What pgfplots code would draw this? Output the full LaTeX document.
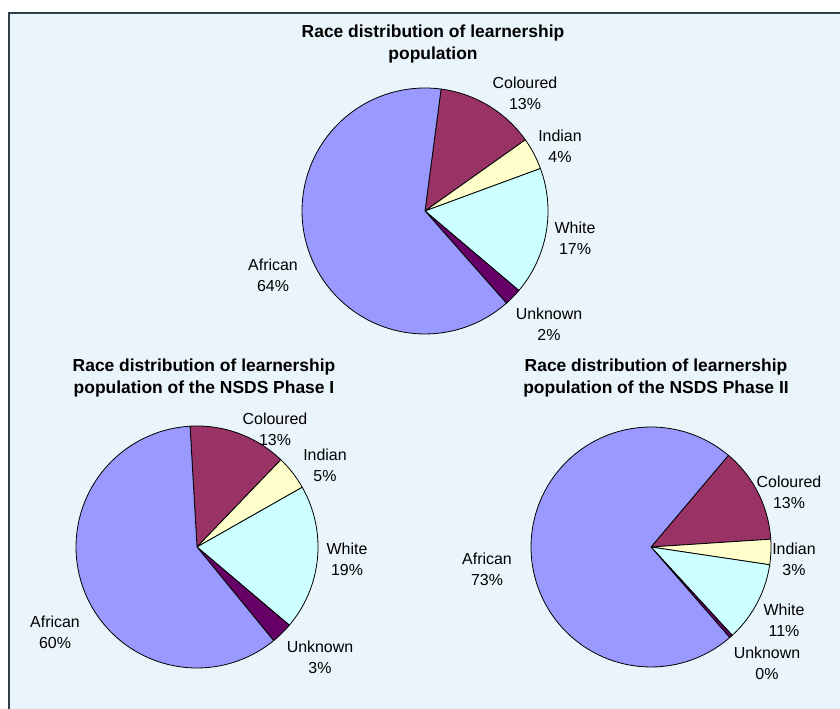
\documentclass[border=0pt]{standalone}
\usepackage{pgfplots}
\pgfplotsset{compat=1.18}
\usepackage{fontspec}
\setmainfont{Liberation Sans}
\definecolor{african}{HTML}{9999FF}
\definecolor{coloured}{HTML}{993366}
\definecolor{indian}{HTML}{FFFFCC}
\definecolor{cwhite}{HTML}{CCFFFF}
\definecolor{unknown}{HTML}{660066}
\definecolor{bgc}{HTML}{EAF4FB}
\definecolor{framec}{HTML}{2E3E4A}

% one pie slice, angles in degrees (math convention)
\newcommand\wedgeplot[6]{%
  \pgfmathsetmacro\wa{#4}\pgfmathsetmacro\wb{#5}%
  \edef\tmp{\noexpand\addplot[fill=#6, draw=black, line width=0.8pt, line join=round,
    domain=\wa:\wb, samples=90, variable=\noexpand\t]
    ({#1+#3*cos(\noexpand\t)},{#2+#3*sin(\noexpand\t)}) -- (axis cs:#1,#2) -- cycle;}%
  \tmp}
% cx cy r offset(clockwise from 12 o'clock) coloured indian white unknown african (percent)
\newcommand\drawpie[9]{%
  \pgfmathsetmacro\pA{90-#4}%
  \pgfmathsetmacro\pB{\pA-3.6*#5}%
  \pgfmathsetmacro\pC{\pB-3.6*#6}%
  \pgfmathsetmacro\pD{\pC-3.6*#7}%
  \pgfmathsetmacro\pE{\pD-3.6*#8}%
  \pgfmathsetmacro\pF{\pE-3.6*#9}%
  \wedgeplot{#1}{#2}{#3}{\pB}{\pA}{coloured}%
  \wedgeplot{#1}{#2}{#3}{\pC}{\pB}{indian}%
  \wedgeplot{#1}{#2}{#3}{\pD}{\pC}{cwhite}%
  \wedgeplot{#1}{#2}{#3}{\pE}{\pD}{unknown}%
  \wedgeplot{#1}{#2}{#3}{\pF}{\pE}{african}%
}

\begin{document}
\begin{tikzpicture}[x=1bp,y=1bp,
  lbl/.style={align=center, text=black, font=\fontsize{16}{21}\selectfont},
  ttl/.style={align=center, text=black, font=\fontsize{17.5}{22}\selectfont\bfseries}]
\fill[bgc] (9,0) rectangle (840,696);
\draw[framec, line width=1.6pt] (9,0) -- (9,696) -- (840,696);
\begin{axis}[width=840bp, height=709bp, scale only axis, hide axis,
  xmin=0, xmax=840, ymin=0, ymax=709, clip=false]

% Pie 1: overall learnership population
\drawpie{425}{498}{123}{7.5}{13.1}{4.2}{16.8}{2.3}{63.6}
% Pie 2: NSDS Phase I
\drawpie{197}{162}{121}{-3.3}{13.1}{4.6}{19.4}{2.9}{60.0}
% Pie 3: NSDS Phase II
\drawpie{651}{162}{120}{40.2}{12.8}{3.4}{10.8}{0.45}{72.55}

% titles
\node[ttl] at (axis cs:433,665) {Race distribution of learnership\\population};
\node[ttl] at (axis cs:204,331) {Race distribution of learnership\\population of the NSDS Phase I};
\node[ttl] at (axis cs:656,331) {Race distribution of learnership\\population of the NSDS Phase II};

% labels pie 1
\node[lbl] at (axis cs:525,616) {Coloured\\13\%};
\node[lbl] at (axis cs:560,563) {Indian\\4\%};
\node[lbl] at (axis cs:575,471) {White\\17\%};
\node[lbl] at (axis cs:549,385) {Unknown\\2\%};
\node[lbl] at (axis cs:273,434) {African\\64\%};

% labels pie 2
\node[lbl] at (axis cs:275,280) {Coloured\\13\%};
\node[lbl] at (axis cs:325,244) {Indian\\5\%};
\node[lbl] at (axis cs:347,150) {White\\19\%};
\node[lbl] at (axis cs:320,52) {Unknown\\3\%};
\node[lbl] at (axis cs:55,77) {African\\60\%};

% labels pie 3
\node[lbl] at (axis cs:789,217) {Coloured\\13\%};
\node[lbl] at (axis cs:794,150) {Indian\\3\%};
\node[lbl] at (axis cs:784,89) {White\\11\%};
\node[lbl] at (axis cs:767,46) {Unknown\\0\%};
\node[lbl] at (axis cs:487,140) {African\\73\%};
\end{axis}
\pgfresetboundingbox
\path (0,0) rectangle (840,709);
\end{tikzpicture}
\end{document}
